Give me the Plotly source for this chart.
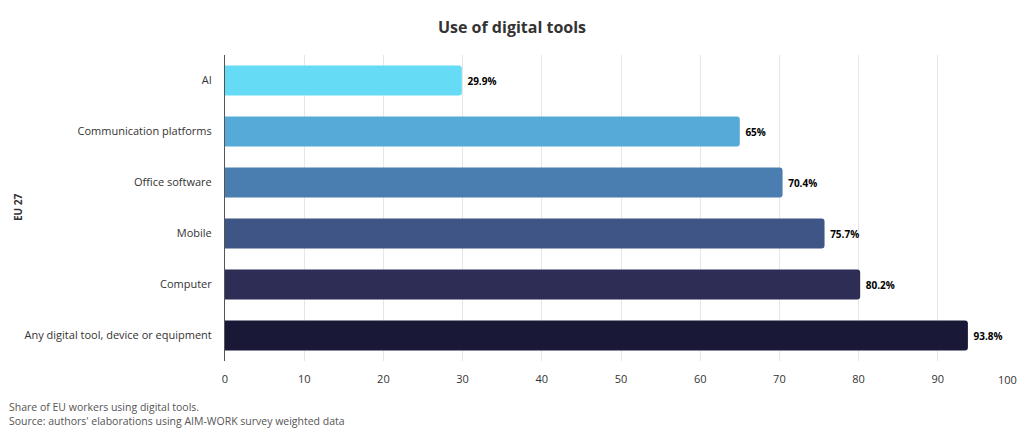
import plotly.graph_objects as go

categories = ["AI", "Communication platforms", "Office software", "Mobile", "Computer",
              "Any digital tool, device or equipment"]
values = [29.9, 65, 70.4, 75.7, 80.2, 93.8]
labels = ["29.9%", "65%", "70.4%", "75.7%", "80.2%", "93.8%"]
colors = ["#66DBF6", "#55AAD8", "#4A7EB1", "#3E5585", "#2D2D55", "#191836"]
x_ticks = [0, 10, 20, 30, 40, 50, 60, 70, 80, 90, 100]

FONT = "Open Sans, Noto Sans, sans-serif"
W, H = 1024, 439
L, R, T, B = 225, 7, 55, 78
PW, PH = W - L - R, H - T - B

fig = go.Figure(go.Bar(
    y=categories, x=values, orientation="h",
    marker=dict(color=colors, cornerradius=3, line=dict(width=0)),
    text=labels, textposition="outside", texttemplate=" %{text}",
    textfont=dict(family=FONT, size=10, color="#000000", weight="bold"),
    cliponaxis=False,
))

fig.update_layout(
    width=W, height=H,
    margin=dict(l=L, r=R, t=T, b=B, autoexpand=False),
    paper_bgcolor="white", plot_bgcolor="white",
    bargap=0.41,
    showlegend=False,
    font=dict(family=FONT, size=11, color="#333333"),
    title=dict(text="<b>Use of digital tools</b>", x=0.5, xanchor="center",
               yref="container", y=1 - 27 / H, yanchor="middle",
               font=dict(family=FONT, size=16, color="#333333")),
)
# last tick label is drawn as an annotation, kept inside the page like the reference
tick_text = [str(v) for v in x_ticks[:-1]] + [""]
fig.update_xaxes(range=[0, 100], tickvals=x_ticks, ticktext=tick_text, showgrid=True,
                 gridcolor="#e6e6e6", gridwidth=1, zeroline=False, showline=False, ticks="",
                 ticklabelstandoff=10, automargin=False,
                 tickfont=dict(size=11, color="#333333"))
fig.update_yaxes(categoryorder="array", categoryarray=categories, autorange="reversed",
                 showline=True, linecolor="#555555", linewidth=1, ticks="", showgrid=False,
                 ticklabelstandoff=10, automargin=False,
                 tickfont=dict(size=11, color="#333333"))

fig.add_annotation(text=str(x_ticks[-1]), xref="x", yref="paper", x=x_ticks[-1], y=0,
                   xanchor="right", yanchor="top", yshift=-9, xshift=2, showarrow=False,
                   font=dict(family=FONT, size=11, color="#333333"))

fig.add_annotation(text="<b>EU 27</b>", xref="paper", yref="paper",
                   x=(18 - L) / PW, y=0.5, xanchor="center", yanchor="middle",
                   textangle=-90, showarrow=False,
                   font=dict(family=FONT, size=10, color="#333333"))

fig.add_annotation(text="Share of EU workers using digital tools.<br>Source: authors' elaborations using AIM-WORK survey weighted data",
                   xref="paper", yref="paper", x=(7 - L) / PW, y=-(398 - (H - B)) / PH,
                   xanchor="left", yanchor="top",
                   showarrow=False, align="left",
                   font=dict(family=FONT, size=10.5, color="#555555"))

fig.write_html("out.html", config={"displayModeBar": False},
               post_script="document.body.style.margin='0';document.body.style.overflow='hidden';")
